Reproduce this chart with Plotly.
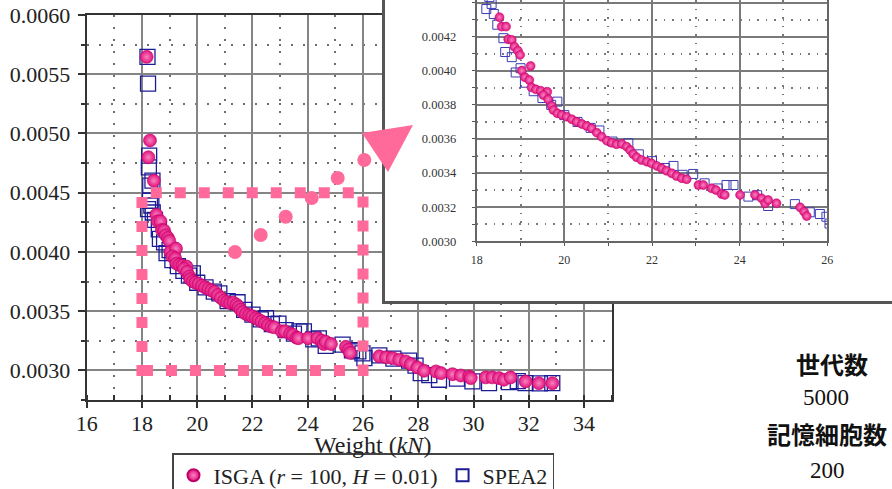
import plotly.graph_objects as go

W, H = 892, 489

# ---------------- data ----------------
isga_x = [18.17, 18.29, 18.23, 18.43, 18.52, 18.57, 18.67, 18.72, 18.80, 18.86,
          18.94, 18.99, 19.03, 19.23, 19.10, 19.20, 19.25, 19.35, 19.46, 19.61,
          19.52, 19.63, 19.71, 19.75, 19.84, 19.94, 20.05, 20.17, 20.28, 20.40,
          20.51, 20.62, 20.74, 20.85, 20.97, 21.08, 21.19, 21.31, 21.42, 21.50,
          21.57, 21.65, 21.76, 21.88, 21.99, 22.11, 22.22, 22.33, 22.45, 22.56,
          22.68, 22.79, 23.06, 23.17, 23.36, 23.46, 23.59, 23.66, 24.01, 24.35,
          24.50, 24.58, 24.65, 24.84, 25.38, 25.47, 25.53, 26.59, 26.83, 27.07,
          27.31, 27.55, 27.73, 27.97, 28.21, 28.64, 28.82, 29.24, 29.54, 29.84,
          29.90, 30.44, 30.68, 30.92, 31.10, 31.34, 31.88, 32.36, 32.85]
isga_y = [0.005647, 0.004941, 0.004799, 0.004602, 0.004314, 0.004259, 0.004259, 0.004185, 0.004181, 0.004141,
          0.004118, 0.004093, 0.004001, 0.004028, 0.003962, 0.003946, 0.003903, 0.003891, 0.003883, 0.003877,
          0.003858, 0.003833, 0.003794, 0.003770, 0.003751, 0.003741, 0.003731, 0.003716, 0.003701, 0.003688,
          0.003676, 0.003663, 0.003637, 0.003613, 0.003590, 0.003578, 0.003569, 0.003571, 0.003555, 0.003535,
          0.003512, 0.003493, 0.003477, 0.003467, 0.003457, 0.003442, 0.003428, 0.003414, 0.003399, 0.003383,
          0.003370, 0.003364, 0.003330, 0.003330, 0.003311, 0.003301, 0.003277, 0.003272, 0.003272, 0.003272,
          0.003252, 0.003223, 0.003242, 0.003223, 0.003199, 0.003174, 0.003148, 0.003119, 0.003110, 0.003104,
          0.003090, 0.003076, 0.003053, 0.003025, 0.002997, 0.002991, 0.002977, 0.002968, 0.002957, 0.002949,
          0.002935, 0.002941, 0.002941, 0.002935, 0.002921, 0.002941, 0.002907, 0.002892, 0.002892]

spea2_x = [18.20, 18.22, 18.26, 18.25, 18.30, 18.38, 18.29, 18.22, 18.34, 18.39,
           18.47, 18.61, 18.65, 18.80, 18.89, 19.00, 19.10, 19.30, 19.50, 19.70,
           19.84, 20.00, 20.30, 20.60, 20.80, 21.10, 21.46, 21.70, 22.00, 22.30,
           22.49, 22.70, 22.94, 23.20, 23.50, 23.70, 23.86, 24.20, 24.40, 24.65,
           25.26, 25.60, 25.83, 25.98, 26.05, 26.59, 27.10, 27.67, 27.90, 28.09,
           28.40, 28.75, 29.40, 29.96, 30.56, 31.28, 31.60, 31.88, 32.40, 32.85]
spea2_y = [0.005647, 0.005421, 0.004813, 0.004714, 0.004560, 0.004602, 0.004432, 0.004362, 0.004392, 0.004333,
           0.004270, 0.004191, 0.004110, 0.004080, 0.003990, 0.004015, 0.003930, 0.003880, 0.003840, 0.003800,
           0.003819, 0.003740, 0.003700, 0.003665, 0.003650, 0.003585, 0.003575, 0.003510, 0.003470, 0.003430,
           0.003442, 0.003390, 0.003395, 0.003340, 0.003310, 0.003330, 0.003330, 0.003262, 0.003270, 0.003207,
           0.003218, 0.003170, 0.003160, 0.003144, 0.003104, 0.003127, 0.003100, 0.003082, 0.003040, 0.002977,
           0.002960, 0.002921, 0.002930, 0.002907, 0.002892, 0.002901, 0.002910, 0.002892, 0.002890, 0.002892]

x_range = [16, 35]
y_range = [0.00275, 0.0060001]
inset_x_range = [18, 26]
inset_y_range = [0.0030, 0.004415]
zoom_box = [18, 26, 0.0030, 0.0045]  # region magnified by the inset

x_title = "Weight (<i>kN</i>)"
isga_name = "ISGA (<i>r</i> = 100, <i>H</i> = 0.01)"
spea2_name = "SPEA2"
side_texts = [("世代数", True), ("5000", False), ("記憶細胞数", True), ("200", False)]

# ---------------- style ----------------
SERIF = "Liberation Serif"
CJK = "Noto Sans CJK JP"
MAGENTA = "#E2127E"
NAVY = "#1C1C96"
PINK = "#FF6A9B"


def px(x):
    return x / W


def py(y):
    return 1 - y / H


fig = go.Figure()

# main plot
fig.add_trace(go.Scatter(x=spea2_x, y=spea2_y, mode="markers", name=spea2_name,
                         legendrank=2,
                         marker=dict(symbol="square-open", size=15, color=NAVY,
                                     line=dict(width=1.3, color=NAVY))))
fig.add_trace(go.Scatter(x=isga_x, y=isga_y, mode="markers", name=isga_name,
                         legendrank=1,
                         marker=dict(symbol="circle", size=13, color=MAGENTA,
                                     gradient=dict(type="radial", color="#F883BE"),
                                     line=dict(width=0.6, color="#C0006A"))))
# frame of the inset (empty subplot used as white panel)
fig.add_trace(go.Scatter(x=[], y=[], xaxis="x2", yaxis="y2", showlegend=False,
                         hoverinfo="skip"))
# inset
fig.add_trace(go.Scatter(x=spea2_x, y=spea2_y, mode="markers", xaxis="x3", yaxis="y3",
                         showlegend=False,
                         marker=dict(symbol="square-open", size=9, color="#3C3CB4",
                                     line=dict(width=1, color="#3C3CB4"))))
fig.add_trace(go.Scatter(x=isga_x, y=isga_y, mode="markers", xaxis="x3", yaxis="y3",
                         showlegend=False,
                         marker=dict(symbol="circle", size=9, color=MAGENTA,
                                     gradient=dict(type="radial", color="#F883BE"),
                                     line=dict(width=0.5, color="#C0006A"))))

grid_major = "#858585"
grid_minor = "#6E6E6E"

main_x = dict(domain=[px(86.7), px(611.7)], range=x_range, dtick=2, tick0=16,
              automargin=False,
              showline=True, linecolor="#333", linewidth=2, mirror=True,
              showgrid=True, gridcolor=grid_major, gridwidth=2,
              ticks="outside", ticklen=6, tickwidth=2, tickcolor="#333",
              ticklabelstandoff=-3,
              minor=dict(dtick=1, showgrid=True, gridcolor=grid_minor, gridwidth=2,
                         griddash="2px,10px", ticks="inside", ticklen=5, tickcolor="#333"),
              zeroline=False, anchor="y",
              tickfont=dict(family=SERIF, size=22, color="#222"))
main_y = dict(domain=[py(400), py(15)], range=y_range, dtick=0.0005, tick0=0.0030,
              tickformat=".4f", automargin=False,
              showline=True, linecolor="#333", linewidth=2, mirror=True,
              showgrid=True, gridcolor=grid_major, gridwidth=2,
              ticks="outside", ticklen=7, tickwidth=2, tickcolor="#333",
              ticklabelstandoff=3,
              minor=dict(dtick=0.00025, showgrid=True, gridcolor=grid_minor, gridwidth=2,
                         griddash="2px,10px", ticks="outside", ticklen=4, tickcolor="#333"),
              zeroline=False, anchor="x",
              tickfont=dict(family=SERIF, size=22, color="#222"))

frame_x = dict(domain=[px(385), 1], range=[0, 1], showline=True, linecolor="#555",
               linewidth=3, mirror=False, showgrid=False, zeroline=False, automargin=False,
               showticklabels=False, ticks="", anchor="y2", fixedrange=True)
frame_y = dict(domain=[py(301), 1], range=[0, 1], showline=True, linecolor="#555",
               linewidth=3, mirror=False, showgrid=False, zeroline=False, automargin=False,
               showticklabels=False, ticks="", anchor="x2", fixedrange=True)

inset_x = dict(domain=[px(476.7), px(827.3)], range=inset_x_range, dtick=2, tick0=18,
               automargin=False,
               showline=True, linecolor="#666", linewidth=2, mirror=True,
               showgrid=True, gridcolor="#7A7A7A", gridwidth=2,
               ticks="outside", ticklen=3, tickcolor="#555",
               ticklabelstandoff=3,
               minor=dict(dtick=1, showgrid=True, gridcolor="#777", gridwidth=1.5,
                          griddash="1.5px,7px", ticks="outside", ticklen=3, tickcolor="#555"),
               zeroline=False, anchor="y3",
               tickfont=dict(family=SERIF, size=12, color="#333"))
inset_y = dict(domain=[py(241.3), 1], range=inset_y_range, dtick=0.0002, tick0=0.0030,
               tickformat=".4f", automargin=False,
               showline=True, linecolor="#666", linewidth=2, mirror=True,
               showgrid=True, gridcolor="#7A7A7A", gridwidth=2,
               ticks="outside", ticklen=3, tickcolor="#555",
               ticklabelstandoff=13,
               minor=dict(dtick=0.0001, showgrid=True, gridcolor="#777", gridwidth=1.5,
                          griddash="1.5px,7px", ticks="outside", ticklen=3, tickcolor="#555"),
               zeroline=False, anchor="x3",
               tickfont=dict(family=SERIF, size=12.5, color="#333"))

# ---------------- decorations ----------------
shapes = []
# dashed zoom box
shapes.append(dict(type="rect", xref="x", yref="y",
                   x0=zoom_box[0], x1=zoom_box[1], y0=zoom_box[2], y1=zoom_box[3],
                   line=dict(color=PINK, width=11, dash="11px,13px"), layer="above"))
# dotted leader (round dots)
dot_px = [(235, 252), (260.7, 235), (285.7, 216.7), (311.7, 198), (337.7, 178), (364.3, 160)]
r = 7
for (cx, cy) in dot_px:
    shapes.append(dict(type="circle", xref="paper", yref="paper",
                       x0=px(cx - r), x1=px(cx + r), y0=py(cy + r), y1=py(cy - r),
                       fillcolor=PINK, line=dict(width=0), layer="above"))
# arrow head
tri = [(362, 133), (413, 125), (388, 172)]
path = "M {} {} L {} {} L {} {} Z".format(px(tri[0][0]), py(tri[0][1]),
                                           px(tri[1][0]), py(tri[1][1]),
                                           px(tri[2][0]), py(tri[2][1]))
shapes.append(dict(type="path", xref="paper", yref="paper", path=path,
                   fillcolor=PINK, line=dict(width=0), layer="above"))

annotations = [
    dict(text=x_title, xref="paper", yref="paper", x=px(372), y=py(445),
         xanchor="center", yanchor="middle", showarrow=False,
         font=dict(family=SERIF, size=24, color="#222")),
]
side_pos = [(832, 363, "center"), (826, 397, "center"), (765, 433, "left"), (827, 470, "center")]
for (txt, bold), (sx, sy, anc) in zip(side_texts, side_pos):
    annotations.append(dict(
        text=("<b>%s</b>" % txt) if bold else txt, xref="paper", yref="paper",
        x=px(sx), y=py(sy), xanchor=anc, yanchor="middle", showarrow=False,
        font=dict(family=CJK if bold else SERIF, size=24 if bold else 23, color="#111")))

fig.update_layout(
    width=W, height=H, autosize=False,
    margin=dict(l=0, r=0, t=0, b=0, autoexpand=False),
    paper_bgcolor="white", plot_bgcolor="white",
    font=dict(family=SERIF),
    xaxis=main_x, yaxis=main_y,
    xaxis2=frame_x, yaxis2=frame_y,
    xaxis3=inset_x, yaxis3=inset_y,
    shapes=shapes, annotations=annotations,
    showlegend=True,
    legend=dict(orientation="h", x=px(172), y=py(453), xanchor="left", yanchor="top",
                bgcolor="white", bordercolor="#444", borderwidth=1.5,
                font=dict(family=SERIF, size=22, color="#222"),
                itemsizing="constant", tracegroupgap=0),
)

fig.write_html("out.html", config={"displayModeBar": False},
               post_script="document.body.style.margin='0';document.body.style.overflow='hidden';")
